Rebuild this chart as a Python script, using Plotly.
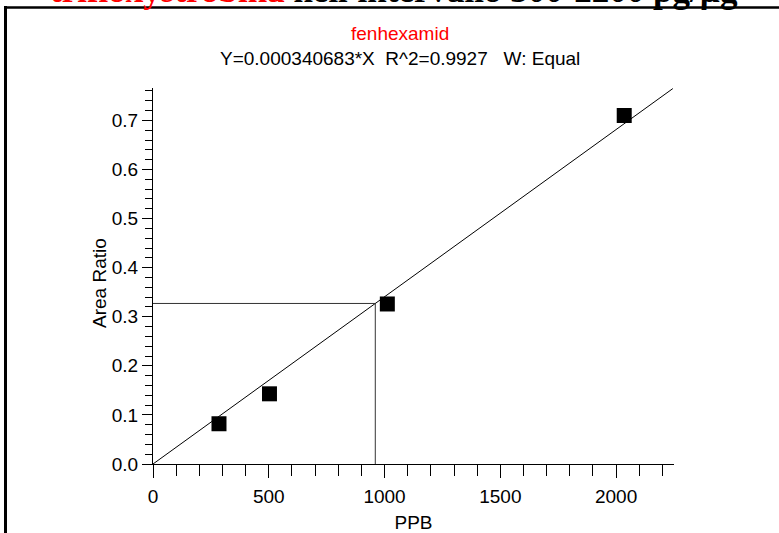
import plotly.graph_objects as go

# ---- data ----
ppb = [285, 503, 1012, 2035]
area_ratio = [0.082, 0.143, 0.326, 0.710]
slope = 0.000340683
line_x = [0, 2245]
cross_x = 960
x_ticks = [0, 500, 1000, 1500, 2000]
y_ticks = [0.0, 0.1, 0.2, 0.3, 0.4, 0.5, 0.6, 0.7]

title_red = "trifloxystrobina"
title_black = " nell'intervallo 300-2200 pg/µg"
compound = "fenhexamid"
equation = "Y=0.000340683*X  R^2=0.9927   W: Equal"

# ---- layout constants (pixels) ----
W, H = 779, 533
L, R, T, B = 153, 105, 88, 69
PW, PH = W - L - R, H - T - B
def px(xp):
    return (xp - L) / PW
def py(yp):
    return 1 + (T - yp) / PH

FONT = "Liberation Sans Narrow, Arial Narrow, Liberation Sans, Arial, sans-serif"
FS = 19

fig = go.Figure()
fig.add_trace(go.Scatter(
    x=line_x, y=[slope * v for v in line_x], mode="lines",
    line=dict(color="black", width=1), showlegend=False, hoverinfo="skip"))
cross_y = slope * cross_x
fig.add_trace(go.Scatter(
    x=[0, cross_x, cross_x], y=[cross_y, cross_y, 0], mode="lines",
    line=dict(color="#333333", width=1), showlegend=False, hoverinfo="skip"))
fig.add_trace(go.Scatter(
    x=ppb, y=area_ratio, mode="markers",
    marker=dict(symbol="square", size=15, color="black", line=dict(width=0)),
    showlegend=False))

axis_common = dict(showline=True, linecolor="black", linewidth=1, ticks="outside",
                   tickcolor="black", tickwidth=1, showgrid=False, zeroline=False,
                   automargin=False,
                   tickfont=dict(family=FONT, size=FS, color="black"), mirror=False)

fig.update_xaxes(range=[0, 2250], tickvals=x_ticks, ticktext=[str(v) for v in x_ticks],
                 ticklen=13, ticklabelstandoff=2,
                 minor=dict(dtick=100, ticklen=11, ticks="outside", tickcolor="black"),
                 title=dict(text="PPB", font=dict(family=FONT, size=FS, color="black"), standoff=14),
                 **axis_common)
fig.update_yaxes(range=[0, 0.766], tickvals=y_ticks, ticktext=[f"{v:.1f}" for v in y_ticks],
                 ticklen=10, ticklabelstandoff=0,
                 minor=dict(dtick=0.02, ticklen=7, ticks="outside", tickcolor="black"),
                 **axis_common)

annotations = [
    dict(text="Area Ratio", xref="paper", yref="paper", x=px(99), y=py(283),
         xanchor="center", yanchor="middle", showarrow=False, textangle=-90,
         font=dict(family=FONT, size=FS, color="black")),
    dict(text=compound, xref="paper", yref="paper", x=px(400), y=py(33),
         xanchor="center", yanchor="middle", showarrow=False,
         font=dict(family=FONT, size=19, color="red")),
    dict(text=equation, xref="paper", yref="paper", x=px(400), y=py(59),
         xanchor="center", yanchor="middle", showarrow=False,
         font=dict(family=FONT, size=19, color="black")),
    dict(text=f"<b><span style='color:red'>{title_red}</span>{title_black}</b>",
         xref="paper", yref="paper", x=px(48), y=py(12),
         xanchor="left", yanchor="bottom", showarrow=False,
         font=dict(family="Liberation Serif, Times New Roman, serif", size=35, color="black")),
]

shapes = [
    dict(type="line", xref="paper", yref="paper", x0=px(5.5), x1=px(5.5), y0=py(6), y1=py(540),
         line=dict(color="black", width=3)),
    dict(type="line", xref="paper", yref="paper", x0=px(4), x1=px(790), y0=py(7.5), y1=py(7.5),
         line=dict(color="black", width=2.5)),
]

fig.update_layout(width=W, height=H, margin=dict(l=L, r=R, t=T, b=B, autoexpand=False),
                  paper_bgcolor="white", plot_bgcolor="white",
                  annotations=annotations, shapes=shapes,
                  font=dict(family=FONT, color="black"))

fig.write_html("out.html", config={"displayModeBar": False},
               post_script="document.body.style.margin='0';document.body.style.padding='0';")
